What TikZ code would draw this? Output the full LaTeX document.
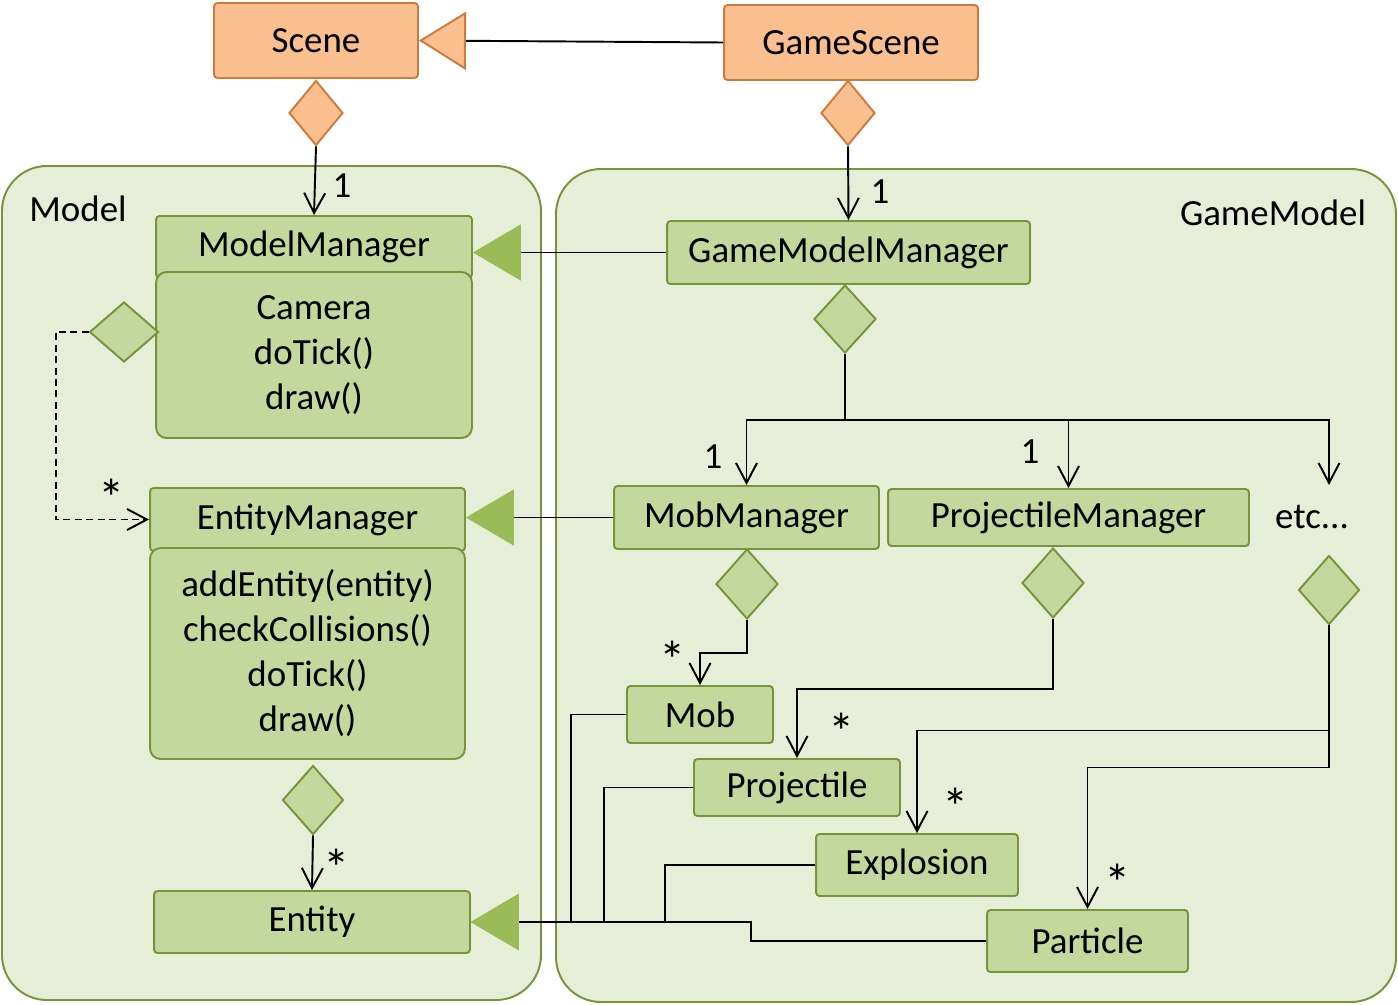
\documentclass[tikz,border=0pt]{standalone}
\usepackage{fontspec}
\setmainfont{Carlito}
\usepackage{tikz}
\usetikzlibrary{arrows.meta}
\usetikzlibrary{shapes.geometric}

\definecolor{orfill}{HTML}{F9BF8F}
\definecolor{orline}{HTML}{CF7A3C}
\definecolor{grfill}{HTML}{C4D79C}
\definecolor{grline}{HTML}{77933C}
\definecolor{pkfill}{HTML}{E6EED8}
\definecolor{tri}{HTML}{9BBB59}

\begin{document}
\begin{tikzpicture}[x=0.02cm,y=-0.02cm,font=\fontsize{21}{25.6}\selectfont,line width=1.1pt,
	pkg/.style={draw=grline,fill=pkfill,rounded corners=0.9cm},
	box/.style={draw=grline,fill=grfill,rounded corners=2pt,inner sep=0pt},
	orbox/.style={box,draw=orline,fill=orfill},
	body/.style={box,rounded corners=6pt,align=center},
	dia/.style={diamond,draw=grline,fill=grfill,inner sep=0pt,aspect=1},
	ordia/.style={dia,draw=orline,fill=orfill},
	mult/.style={font=\fontsize{30}{30}\selectfont,inner sep=0pt},
	has/.style={-{Straight Barb[length=0.4cm,width=0.42cm]}},
	isa/.style={-{Triangle[length=0.96cm,width=1.12cm,color=tri]}},
	orisa/.style={-{Triangle[length=0.94cm,width=1.16cm,color=orline,fill=orfill]}}]
	
	\useasboundingbox (0,0) rectangle (1398,1004);
	\draw[pkg] (2,166) rectangle (541,1000);
	\draw[pkg] (556,169) rectangle (1396,1002);
	\node (model) at (78,209) {Model};
	\node (gamemodel) at (1273,213) {GameModel};
	
	\node[orbox,minimum width=4.08cm,minimum height=1.5cm] (scene) at (316,40.5) {Scene};
	\node[orbox,minimum width=5.08cm,minimum height=1.5cm] (gamescene) at (851,42.5) {GameScene};
	\node[ordia,minimum width=1.08cm,minimum height=1.3cm] (dscene) at (316,113) {};
	\node[ordia,minimum width=1.08cm,minimum height=1.3cm] (dgame) at (848,113) {};
	
	\node[box,minimum width=6.32cm,minimum height=1.24cm] (mmhead) at (314,247) {ModelManager};
	\node[body,minimum width=6.32cm,minimum height=3.32cm] (mmbody) at (314,355) {Camera\\doTick()\\draw()};
	\node[dia,minimum width=1.38cm,minimum height=1.2cm] (dmm) at (124,332) {};
	\node[box,minimum width=7.26cm,minimum height=1.26cm] (gmm) at (848.5,252.5) {GameModelManager};
	\node[dia,minimum width=1.24cm,minimum height=1.36cm] (dgmm) at (845,319) {};
	
	\node[box,minimum width=6.3cm,minimum height=1.26cm] (emhead) at (307.5,519.5) {EntityManager};
	\node[body,minimum width=6.3cm,minimum height=4.22cm] (embody) at (307.5,653.5) {addEntity(entity)\\checkCollisions()\\doTick()\\draw()};
	\node[dia,minimum width=1.22cm,minimum height=1.38cm] (dent) at (313,800) {};
	\node[box,minimum width=6.32cm,minimum height=1.24cm] (entity) at (312,922) {Entity};
	
	\node[box,minimum width=5.3cm,minimum height=1.26cm] (mobmgr) at (746.5,517.5) {MobManager};
	\node[box,minimum width=7.22cm,minimum height=1.14cm] (projmgr) at (1068.5,517.5) {ProjectileManager};
	\node (etc) at (1312,517) {etc...};
	\coordinate (etctop) at (1329,485);
	\node[dia,minimum width=1.24cm,minimum height=1.4cm] (dmob) at (747,584) {};
	\node[dia,minimum width=1.24cm,minimum height=1.4cm] (dproj) at (1053,583) {};
	\node[dia,minimum width=1.22cm,minimum height=1.38cm] (detc) at (1329,590) {};
	
	\node[box,minimum width=2.92cm,minimum height=1.14cm] (mob) at (700,714.5) {Mob};
	\node[box,minimum width=4.12cm,minimum height=1.14cm] (projectile) at (797,787.5) {Projectile};
	\node[box,minimum width=4.04cm,minimum height=1.24cm] (explosion) at (917,865) {Explosion};
	\node[box,minimum width=4.02cm,minimum height=1.24cm] (particle) at (1087.5,941) {Particle};
	
	\node (one1) at (342,186) {1};
	\node (one2) at (880,192) {1};
	\node (one3) at (713,457) {1};
	\node (one4) at (1030,452) {1};
	\node[mult] (star1) at (112,498) {*};
	\node[mult] (star2) at (337,868) {*};
	\node[mult] (star3) at (673,660) {*};
	\node[mult] (star4) at (842,732) {*};
	\node[mult] (star5) at (956,807) {*};
	\node[mult] (star6) at (1118,883) {*};
	
	\draw[orisa] (gamescene.west) -- (scene.east);
	\draw[has] (dscene.south) -- (mmhead.north);
	\draw[has] (dgame.south) -- (gmm.north);
	\draw[isa] (gmm.west) -- (gmm.west -| mmhead.east);
	\draw[isa] (mobmgr.west) -- (mobmgr.west -| emhead.east);
	\draw[has,dash pattern=on 4pt off 2.5pt] (dmm.west) -- ++(-33,0) |- (emhead.west);
	\draw[has] (dent.south) -- (entity.north);
	
	\coordinate (split) at (845,420);
	\draw (dgmm.south) -- (split);
	\draw[has] (split) -| (mobmgr.north);
	\draw[has] (split) -| (projmgr.north);
	\draw[has] (split) -| (etctop);
	
	\draw[has] (dmob.south) -- ++(0,33) -| (mob.north);
	\draw[has] (dproj.south) -- ++(0,70) -| (projectile.north);
	\draw[has] (detc.south) -- ++(0,105) -| (explosion.north);
	\draw[has] (detc.south) -- ++(0,142) -| (particle.north);
	
	\draw[isa] (mob.west) -- ++(-55,0) |- (entity.east);
	\draw[isa] (projectile.west) -- ++(-89,0) |- (entity.east);
	\draw[isa] (explosion.west) -- ++(-150,0) |- (entity.east);
	\draw[isa] (particle.west) -- ++(-235,0) |- (entity.east);
\end{tikzpicture}
\end{document}
